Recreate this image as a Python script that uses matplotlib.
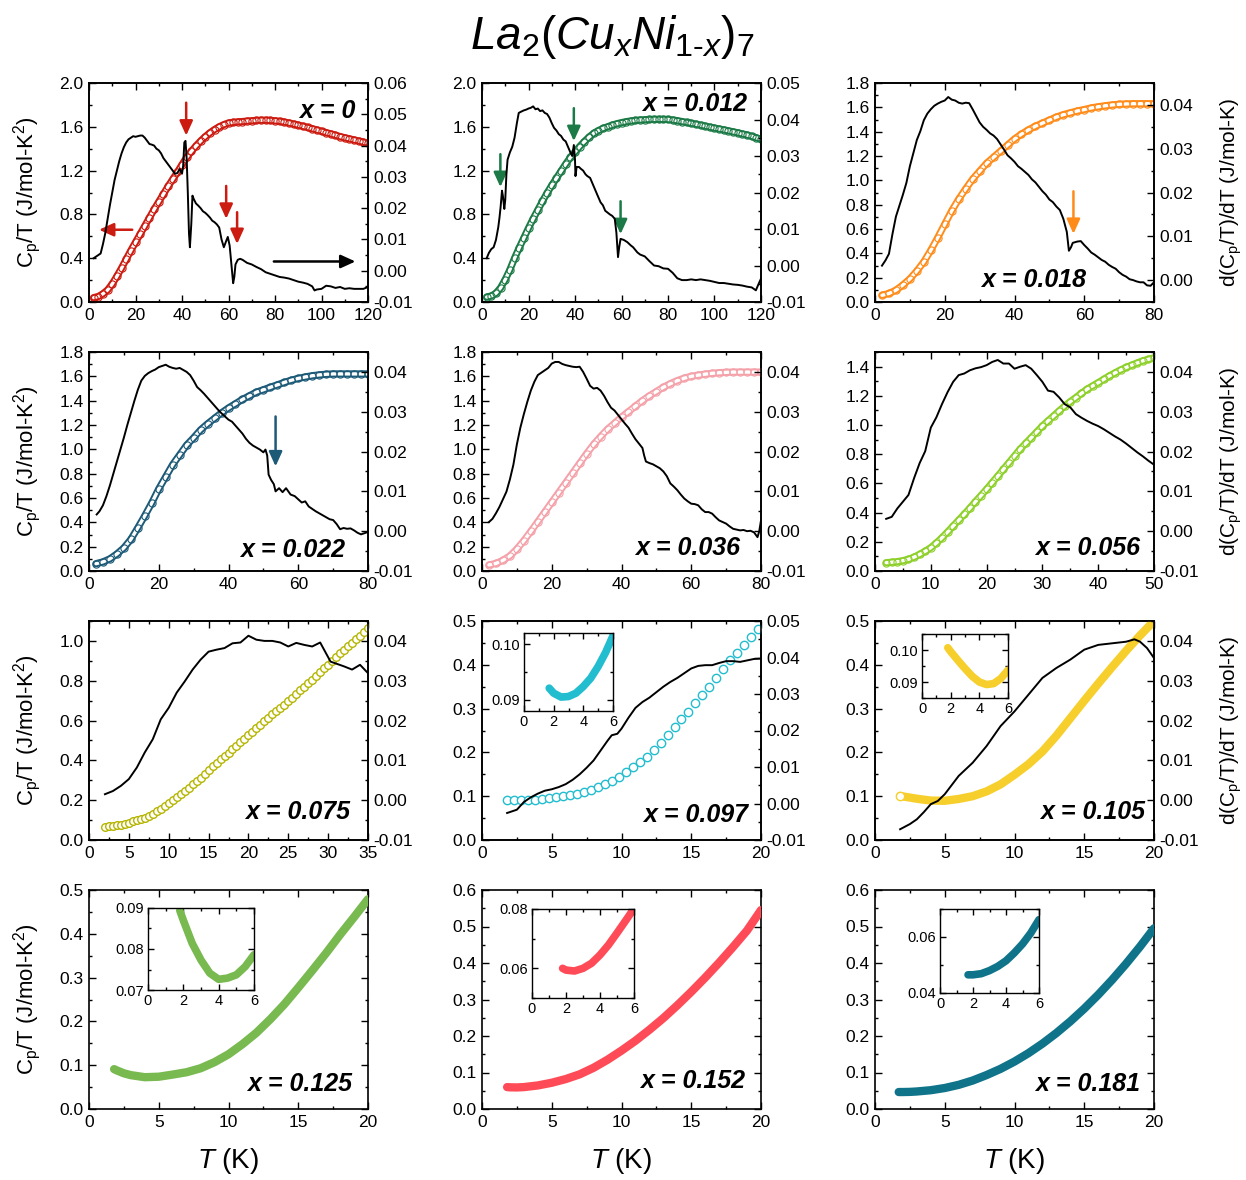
import numpy as np
import matplotlib
matplotlib.use('Agg')
import matplotlib.pyplot as plt
from matplotlib.ticker import MultipleLocator, FormatStrFormatter

plt.rcParams['font.family'] = ['Liberation Sans', 'DejaVu Sans']
plt.rcParams['mathtext.fontset'] = 'custom'
plt.rcParams['mathtext.rm'] = 'Liberation Sans'
plt.rcParams['mathtext.it'] = 'Liberation Sans:italic'
plt.rcParams['mathtext.bf'] = 'Liberation Sans:bold'

# ---------------- data (T [K], value) ----------------
# x = 0
cp_a = [(2,0.04),(4,0.05),(6,0.075),(8,0.11),(10,0.165),(12,0.235),(14,0.31),(16,0.39),(18,0.47),(20,0.545),
        (22,0.62),(24,0.695),(26,0.77),(28,0.845),(30,0.915),(32,0.985),(34,1.055),(36,1.12),(38,1.185),(40,1.255),
        (42,1.32),(44,1.375),(46,1.425),(48,1.47),(50,1.51),(52,1.545),(54,1.575),(56,1.6),(58,1.62),(60,1.635),
        (62,1.64),(64,1.645),(66,1.648),(68,1.652),(70,1.655),(72,1.658),(74,1.66),(76,1.66),(78,1.658),(80,1.655),
        (82,1.65),(84,1.643),(86,1.635),(88,1.625),(90,1.615),(92,1.605),(94,1.594),(96,1.583),(98,1.571),(100,1.559),
        (102,1.547),(104,1.535),(106,1.523),(108,1.511),(110,1.5),(112,1.49),(114,1.48),(116,1.47),(118,1.46),(120,1.45)]
d_a = [(2,0.004),(3,0.0045),(4,0.005),(5,0.0055),(6,0.0085),(7,0.012),(8,0.0165),(9,0.021),(10,0.025),(11,0.029),
       (12,0.032),(13,0.035),(14,0.0375),(15,0.0395),(16,0.041),(17,0.042),(18,0.0425),(19,0.043),(20,0.0428),(21,0.043),
       (22,0.0432),(23,0.0432),(24,0.0425),(25,0.0415),(26,0.0405),(27,0.0403),(28,0.04),(29,0.039),(30,0.0385),(31,0.0375),
       (32,0.036),(33,0.035),(34,0.034),(35,0.033),(36,0.032),(37,0.031),(38,0.0312),(39,0.0325),(40,0.031),(40.5,0.0335),
       (41,0.041),(41.5,0.0415),(42,0.036),(42.5,0.025),(43,0.012),(43.4,0.0075),(44,0.015),(44.5,0.024),(45,0.023),(46,0.0215),
       (47,0.0208),(48,0.02),(49,0.019),(50,0.0185),(51,0.0178),(52,0.017),(53,0.016),(54,0.0155),(55,0.0148),(56,0.0138),
       (57,0.01),(58,0.0075),(59,0.0095),(59.7,0.0108),(60.5,0.008),(61,0.004),(61.5,0.0),(62,-0.004),(62.5,-0.002),(63,0.002),
       (64,0.0035),(65,0.0038),(66,0.0035),(67,0.003),(68,0.0025),(70,0.002),(72,0.0012),(74,0.0005),(76,-0.0005),(78,-0.001),
       (80,-0.0015),(82,-0.002),(84,-0.0022),(86,-0.0025),(88,-0.003),(90,-0.0035),(92,-0.0038),(94,-0.0042),(96,-0.005),(97,-0.0063),
       (98,-0.006),(100,-0.0058),(102,-0.0048),(104,-0.005),(106,-0.0055),(108,-0.0052),(110,-0.0058),(112,-0.0056),(114,-0.0058),
       (116,-0.0058),(118,-0.0058),(120,-0.0052)]
arr_a = [(41.8,1.82,41.8,1.52,'c'),(59,1.06,59,0.76,'c'),(63.7,0.82,63.7,0.53,'c'),(18.6,0.66,4.3,0.66,'c'),(79.5,0.37,114.6,0.37,'k')]

# x = 0.012
cp_b = [(2,0.045),(4,0.055),(6,0.08),(8,0.13),(10,0.205),(12,0.295),(14,0.4),(16,0.495),(18,0.585),(20,0.675),
        (22,0.76),(24,0.84),(26,0.92),(28,0.995),(30,1.065),(32,1.13),(34,1.195),(36,1.26),(38,1.32),(40,1.37),
        (42,1.42),(44,1.465),(46,1.505),(48,1.54),(50,1.565),(52,1.585),(54,1.6),(56,1.615),(58,1.628),(60,1.638),
        (62,1.647),(64,1.653),(66,1.658),(68,1.662),(70,1.665),(72,1.667),(74,1.668),(76,1.668),(78,1.668),(80,1.667),
        (82,1.662),(84,1.656),(86,1.648),(88,1.64),(90,1.632),(92,1.624),(94,1.615),(96,1.606),(98,1.597),(100,1.588),
        (102,1.58),(104,1.572),(106,1.563),(108,1.554),(110,1.545),(112,1.535),(114,1.525),(116,1.513),(118,1.5),(120,1.485)]
d_b = [(2,0.002),(3,0.0035),(4,0.0045),(5,0.005),(6,0.007),(7,0.0105),(7.5,0.013),(8,0.016),(8.6,0.0205),(9,0.019),
       (9.6,0.0155),(10,0.018),(10.5,0.025),(11,0.029),(12,0.031),(13,0.0325),(14,0.035),(15,0.039),(15.8,0.0418),(17,0.0422),
       (18,0.0425),(19,0.0427),(20,0.043),(21,0.0432),(22,0.0436),(23,0.0428),(24,0.043),(25,0.0423),(26,0.0425),(27,0.0418),
       (28,0.0415),(29,0.0405),(30,0.039),(31,0.0377),(32,0.037),(33,0.036),(34,0.0355),(35,0.0345),(36,0.034),(37,0.0325),
       (38,0.031),(38.8,0.03),(39.5,0.033),(40,0.029),(40.2,0.0245),(40.7,0.027),(41.7,0.027),(42.5,0.0265),(43.5,0.026),(44.5,0.025),
       (45.3,0.0245),(46.5,0.024),(47.5,0.0225),(48.5,0.021),(49.5,0.0195),(51,0.0173),(52,0.0165),(53,0.015),(54,0.0145),(55,0.014),
       (56,0.0136),(57.1,0.0128),(57.8,0.009),(58.5,0.0023),(59,0.005),(59.6,0.0073),(61,0.007),(62.5,0.0064),(64,0.0055),(65,0.005),
       (66.8,0.0036),(68,0.003),(70,0.0025),(72,0.0012),(74,0.0),(76,-0.0002),(78,-0.0008),(80,-0.0009),(82,-0.002),(84,-0.0035),
       (86,-0.004),(88,-0.004),(90,-0.0038),(92,-0.004),(94,-0.0038),(96,-0.004),(98,-0.0042),(100,-0.0045),(102,-0.0048),(104,-0.0048),
       (106,-0.005),(108,-0.0052),(110,-0.0053),(112,-0.0055),(114,-0.0058),(116,-0.006),(117.8,-0.0068),(119,-0.005),(120,-0.0036)]
arr_b = [(7.9,1.35,7.9,1.05,'c'),(39.5,1.77,39.5,1.47,'c'),(59.6,0.92,59.6,0.62,'c')]

# x = 0.018
cp_c = [(2,0.055),(4,0.07),(6,0.097),(8,0.14),(10,0.19),(12,0.255),(14,0.33),(16,0.425),(18,0.53),(20,0.64),
        (22,0.75),(24,0.845),(26,0.93),(28,1.01),(30,1.075),(32,1.14),(34,1.19),(36,1.24),(38,1.29),(40,1.34),
        (42,1.38),(44,1.415),(46,1.445),(48,1.47),(50,1.495),(52,1.52),(54,1.54),(56,1.555),(58,1.57),(60,1.582),
        (62,1.595),(64,1.605),(66,1.613),(68,1.62),(70,1.625),(72,1.628),(74,1.63),(76,1.63),(78,1.63),(80,1.63)]
d_c = [(2,0.0033),(3,0.0045),(4,0.006),(5,0.0105),(6,0.0145),(7,0.017),(8,0.0195),(9,0.0222),(10,0.026),(11,0.029),
       (12,0.032),(13,0.034),(14,0.0365),(15,0.038),(16,0.039),(17,0.0398),(18,0.0403),(19,0.0407),(20,0.041),(21,0.0418),
       (22,0.0412),(23,0.041),(24,0.0405),(25,0.0403),(26,0.0405),(27,0.0404),(28,0.039),(29,0.0375),(30,0.036),(31,0.035),
       (32,0.0343),(33,0.0335),(34,0.033),(35,0.0322),(36,0.031),(37,0.0298),(38,0.0285),(39,0.0278),(40,0.027),(41,0.026),
       (42,0.0254),(43,0.0247),(44,0.024),(45,0.023),(46,0.0223),(47,0.0213),(48,0.0203),(49,0.0195),(50,0.0184),(51,0.0178),
       (52,0.0168),(53,0.016),(54,0.014),(55,0.011),(55.6,0.0067),(56.2,0.0075),(56.7,0.0085),(58,0.0088),(59,0.0089),(60,0.008),
       (61,0.0072),(62,0.0063),(63,0.0058),(64,0.0052),(65,0.0046),(66,0.0042),(67,0.0035),(68,0.003),(69,0.0026),(70,0.0018),
       (71,0.0012),(72,0.0008),(73,0.0002),(74,0.0),(75,-0.0003),(76,-0.0005),(77,-0.0005),(78,-0.0012),(79,-0.0013),(80,-0.0005)]
arr_c = [(56.9,0.91,56.9,0.56,'c')]

# x = 0.022
cp_d = [(2,0.06),(4,0.075),(6,0.1),(8,0.14),(10,0.19),(12,0.26),(14,0.355),(16,0.455),(18,0.56),(20,0.675),
        (22,0.775),(24,0.875),(26,0.955),(28,1.035),(30,1.095),(32,1.16),(34,1.21),(36,1.255),(38,1.3),(40,1.34),
        (42,1.375),(44,1.41),(46,1.44),(48,1.47),(50,1.49),(52,1.51),(54,1.53),(56,1.55),(58,1.568),(60,1.583),
        (62,1.595),(64,1.605),(66,1.612),(68,1.617),(70,1.62),(72,1.62),(74,1.62),(76,1.62),(78,1.62),(80,1.62)]
d_d = [(2.2,0.0042),(3,0.005),(4,0.0065),(5,0.0088),(6,0.0115),(7,0.0145),(8,0.0175),(9,0.0205),(10,0.0235),(11,0.0267),
       (12,0.0297),(13,0.0327),(14,0.0355),(15,0.0378),(16,0.039),(17,0.0397),(18,0.0402),(19,0.0406),(20,0.0412),(21,0.0415),
       (22,0.0418),(23,0.0413),(24,0.041),(25,0.0408),(26,0.041),(27,0.0405),(28,0.04),(29,0.0392),(30,0.0378),(31,0.0362),
       (32,0.0354),(33,0.0345),(34,0.0335),(35,0.0325),(36,0.0315),(37,0.0305),(38,0.0296),(39,0.0288),(40,0.028),(41,0.0275),
       (42,0.0265),(43,0.0255),(44,0.0245),(45,0.0232),(46,0.0222),(47,0.0215),(48,0.021),(49,0.0205),(50,0.0198),(50.6,0.0205),
       (51.1,0.019),(51.5,0.0142),(52.2,0.0129),(53,0.0118),(53.5,0.01),(54.5,0.0108),(55.5,0.0098),(56.5,0.0108),(57.8,0.0092),(59,0.0088),
       (60,0.008),(61,0.0072),(62,0.0075),(63,0.0062),(64,0.0056),(65,0.005),(66,0.0045),(67,0.004),(68,0.0035),(69,0.003),
       (70,0.0028),(71,0.0018),(72,0.0005),(73,0.0008),(74,0.0006),(75,0.0007),(76,0.0002),(77,-0.0004),(78,-0.0008),(79,-0.0005),(80,-0.0002)]
arr_d = [(53.5,1.27,53.5,0.86,'c')]

# x = 0.036
cp_e = [(2,0.05),(4,0.062),(6,0.088),(8,0.124),(10,0.18),(12,0.25),(14,0.325),(16,0.405),(18,0.485),(20,0.565),
        (22,0.645),(24,0.725),(26,0.805),(28,0.885),(30,0.965),(32,1.04),(34,1.105),(36,1.165),(38,1.215),(40,1.265),
        (42,1.31),(44,1.355),(46,1.4),(48,1.44),(50,1.475),(52,1.51),(54,1.54),(56,1.565),(58,1.585),(60,1.6),
        (62,1.61),(64,1.618),(66,1.625),(68,1.63),(70,1.633),(72,1.635),(74,1.635),(76,1.635),(78,1.635),(80,1.635)]
d_e = [(2,0.0023),(3,0.0031),(4,0.0045),(5,0.0061),(6,0.008),(7,0.0099),(8,0.013),(9,0.0167),(10,0.0218),(11,0.026),
       (12,0.0294),(13,0.0325),(14,0.0353),(15,0.0375),(16,0.0392),(17,0.0398),(18,0.0404),(19,0.041),(20,0.0421),(21,0.0425),
       (22,0.0425),(23,0.042),(24,0.0417),(25,0.0415),(26,0.0413),(27,0.0412),(28,0.0413),(29,0.04),(30,0.0383),(31,0.0365),
       (32,0.0358),(33,0.036),(34,0.0353),(35,0.034),(36,0.0324),(37,0.031),(38,0.0303),(39,0.0292),(40,0.0281),(41,0.027),
       (42,0.026),(43,0.0245),(44,0.0231),(45,0.022),(46,0.0209),(46.5,0.019),(47,0.0175),(48,0.0171),(49,0.0168),(50,0.0163),
       (51,0.0158),(52,0.015),(53,0.0138),(54,0.012),(55,0.0112),(56,0.0103),(57,0.0092),(58,0.0082),(59,0.0075),(60,0.0069),
       (61,0.0068),(62,0.0065),(63,0.0055),(64,0.0048),(65,0.0048),(66,0.0044),(67,0.0035),(68,0.0027),(69,0.0023),(70,0.0019),
       (71,0.0012),(72,0.0006),(73,0.0004),(74,0.0002),(75,0.0003),(76,0.0),(77,0.0001),(78,-0.0003),(79,-0.0015),(79.5,0.0),(80,0.0027)]

# x = 0.056
cp_f = [(2,0.057),(3,0.06),(4,0.064),(5,0.071),(6,0.08),(7,0.095),(8,0.114),(9,0.135),(10,0.16),(11,0.192),
        (12,0.228),(13,0.267),(14,0.308),(15,0.348),(16,0.388),(17,0.431),(18,0.475),(19,0.517),(20,0.56),(21,0.605),
        (22,0.65),(23,0.696),(24,0.742),(25,0.788),(26,0.834),(27,0.874),(28,0.913),(29,0.953),(30,0.993),(31,1.028),
        (32,1.062),(33,1.096),(34,1.13),(35,1.16),(36,1.188),(37,1.217),(38,1.245),(39,1.268),(40,1.29),(41,1.313),
        (42,1.336),(43,1.357),(44,1.377),(45,1.394),(46,1.41),(47,1.425),(48,1.44),(49,1.45),(50,1.46)]
d_f = [(2,0.0031),(3,0.0036),(4,0.0057),(5,0.0074),(6,0.0091),(7,0.0133),(8,0.0171),(9,0.0201),(10,0.026),(11,0.0286),
       (12,0.0319),(13,0.0349),(14,0.0375),(15,0.0392),(16,0.0396),(17,0.0404),(18,0.0409),(19,0.0412),(20,0.0417),(21,0.0425),
       (22,0.043),(23,0.0421),(24,0.0421),(25,0.0408),(26,0.0413),(27,0.0417),(28,0.0408),(29,0.0392),(30,0.0375),(31,0.0353),
       (32,0.035),(33,0.0336),(34,0.0319),(35,0.0311),(36,0.0294),(37,0.0285),(38,0.0277),(39,0.027),(40,0.0264),(41,0.0256),
       (42,0.0247),(43,0.0238),(44,0.023),(45,0.022),(46,0.0209),(47,0.0198),(48,0.0188),(49,0.0177),(50,0.0167)]

# x = 0.075
cp_g = [(2,0.067),(2.5,0.069),(3,0.071),(3.5,0.074),(4,0.077),(4.5,0.082),(5,0.087),(5.5,0.093),(6,0.099),(6.5,0.106),
        (7,0.113),(7.5,0.122),(8,0.132),(8.5,0.145),(9,0.157),(9.5,0.172),(10,0.188),(10.5,0.202),(11,0.217),(11.5,0.232),
        (12,0.247),(12.5,0.263),(13,0.28),(13.5,0.297),(14,0.313),(14.5,0.332),(15,0.351),(15.5,0.37),(16,0.389),(16.5,0.405),
        (17,0.422),(17.5,0.438),(18,0.455),(18.5,0.472),(19,0.49),(19.5,0.507),(20,0.525),(20.5,0.543),(21,0.561),(21.5,0.579),
        (22,0.597),(22.5,0.614),(23,0.631),(23.5,0.647),(24,0.664),(24.5,0.68),(25,0.697),(25.5,0.715),(26,0.733),(26.5,0.751),
        (27,0.769),(27.5,0.787),(28,0.805),(28.5,0.824),(29,0.843),(29.5,0.862),(30,0.88),(30.5,0.899),(31,0.918),(31.5,0.937),
        (32,0.955),(32.5,0.973),(33,0.991),(33.5,1.009),(34,1.027),(34.5,1.045),(35,1.063)]
d_g = [(2,0.0015),(3,0.0023),(4,0.0036),(5,0.0053),(6,0.0082),(7,0.012),(8,0.0153),(9,0.0203),(10,0.0232),(11,0.027),
       (12,0.0298),(13,0.0328),(14,0.0353),(15,0.0373),(16,0.0378),(17,0.0382),(18,0.0394),(19,0.0396),(20,0.0413),(21,0.0403),
       (22,0.04),(23,0.04),(24,0.0396),(25,0.0386),(26,0.0395),(27,0.039),(28,0.0386),(29,0.0396),(30.3,0.0348),(32,0.0336),
       (33,0.0328),(34,0.034),(35,0.0319)]

# x = 0.097
cp_h = [(1.8,0.092),(2.3,0.0908),(2.8,0.0905),(3.3,0.0908),(3.8,0.0918),(4.3,0.0932),(4.8,0.0955),(5.3,0.0975),(5.8,0.1),(6.3,0.103),
        (6.8,0.106),(7.3,0.11),(7.8,0.1145),(8.3,0.121),(8.8,0.1275),(9.3,0.135),(9.8,0.143),(10.3,0.1555),(10.8,0.166),(11.3,0.177),
        (11.8,0.1895),(12.3,0.2055),(12.8,0.222),(13.3,0.2395),(13.8,0.258),(14.3,0.276),(14.8,0.293),(15.3,0.312),(15.8,0.331),(16.3,0.35),
        (16.8,0.37),(17.3,0.39),(17.8,0.41),(18.3,0.428),(18.8,0.446),(19.3,0.463),(19.8,0.482)]
d_h = [(1.8,-0.0026),(2.5,-0.0017),(3,0.0004),(3.5,0.0017),(4,0.0027),(4.5,0.0035),(5,0.0039),(5.5,0.0045),(6,0.0053),(6.5,0.0065),
       (7,0.008),(7.5,0.0098),(8,0.0118),(8.5,0.0145),(9,0.0172),(9.3,0.0187),(9.7,0.0191),(10,0.0205),(10.5,0.0235),(11,0.0262),
       (11.5,0.0278),(12,0.029),(12.5,0.0305),(13,0.032),(13.5,0.0333),(14,0.0344),(14.5,0.0357),(15,0.037),(15.5,0.0377),(16,0.0379),
       (16.5,0.0379),(17,0.0385),(17.5,0.039),(18,0.039),(18.5,0.0388),(19,0.0392),(19.5,0.0396),(20,0.0397)]
ins_h = [(1.7,0.0921),(2,0.0912),(2.5,0.0905),(3,0.0906),(3.5,0.0912),(4,0.0924),(4.5,0.0939),(5,0.096),(5.5,0.0985),(6,0.1015)]

# x = 0.105
cp_i = [(1.8,0.1007),(2,0.0995),(3,0.0942),(4,0.09),(5,0.0895),(6,0.0937),(7,0.1),(8,0.111),(9,0.127),(10,0.149),
        (11,0.173),(12,0.202),(13,0.238),(14,0.278),(15,0.318),(16,0.357),(17,0.395),(18,0.432),(19,0.467),(20,0.5)]
d_i = [(1.8,-0.0073),(2.5,-0.006),(3,-0.0048),(3.5,-0.003),(4,-0.001),(4.5,-0.0002),(5,0.0015),(6,0.0061),(7,0.0094),(8,0.0136),
       (9,0.0186),(10,0.0223),(11,0.0265),(12,0.0307),(13,0.0332),(14,0.0353),(15,0.0378),(16,0.039),(17,0.0394),(18,0.0398),
       (18.6,0.0404),(19,0.0398),(19.5,0.0382),(20,0.0357)]
ins_i = [(1.8,0.1007),(2,0.0995),(2.5,0.0968),(3,0.0942),(3.5,0.0918),(4,0.09),(4.5,0.0892),(5,0.0895),(5.5,0.0911),(6,0.0937)]

# x = 0.125
cp_j = [(1.8,0.091),(2,0.088),(2.5,0.0815),(3,0.0773),(4,0.0726),(5,0.0737),(6,0.0786),(7,0.084),(8,0.093),(9,0.107),
        (10,0.125),(11,0.148),(12,0.174),(13,0.205),(14,0.239),(15,0.277),(16,0.316),(17,0.356),(18,0.398),(19,0.438),(20,0.479)]
ins_j = [(1.8,0.0894),(2,0.087),(2.5,0.0814),(3,0.0773),(3.5,0.0741),(4,0.0726),(4.5,0.0729),(5,0.0737),(5.5,0.0757),(6,0.0786)]

# x = 0.152
cp_k = [(1.8,0.06),(2,0.0594),(2.5,0.0591),(3,0.06),(4,0.0645),(5,0.0719),(6,0.082),(7,0.095),(8,0.113),(9,0.135),
        (10,0.16),(11,0.187),(12,0.217),(13,0.249),(14,0.284),(15,0.321),(16,0.36),(17,0.401),(18,0.444),(19,0.489),(20,0.545)]
ins_k = [(1.8,0.06),(2,0.0594),(2.5,0.0591),(3,0.06),(3.5,0.0617),(4,0.0645),(4.5,0.0679),(5,0.0719),(5.5,0.076),(5.8,0.0785),(6,0.0803)]

# x = 0.181
cp_l = [(1.7,0.0465),(2,0.0465),(2.5,0.0469),(3,0.048),(4,0.0515),(5,0.0575),(6,0.0662),(7,0.078),(8,0.093),(9,0.11),
        (10,0.13),(11,0.153),(12,0.179),(13,0.208),(14,0.24),(15,0.275),(16,0.313),(17,0.354),(18,0.398),(19,0.445),(20,0.495)]
ins_l = [(1.7,0.0465),(2,0.0465),(2.5,0.0469),(3,0.048),(3.5,0.0495),(4,0.0515),(4.5,0.0543),(5,0.0575),(5.5,0.0614),(6,0.0662)]

labels = ['x = 0', 'x = 0.012', 'x = 0.018', 'x = 0.022', 'x = 0.036', 'x = 0.056',
          'x = 0.075', 'x = 0.097', 'x = 0.105', 'x = 0.125', 'x = 0.152', 'x = 0.181']
colors = ['#cc1b10', '#1b7a46', '#ff8c1a', '#1d5a78', '#f4a1a9', '#8ed02a',
          '#b5b500', '#22bdce', '#f6cf2c', '#78b950', '#ff4b58', '#0f7389']

# ---------------- layout ----------------
W, H = 1246, 1180
fig = plt.figure(figsize=(W / 100, H / 100), dpi=100)
COL_L = [89, 482, 875]
ROW_T = [83, 352, 621, 890]
AW, AH = 279, 219


def px_axes(l, t, w, h):
    return fig.add_axes([l / W, 1 - (t + h) / H, w / W, h / H])


def base_ticks(ax, size=12.5, major=5, minor=2.5):
    ax.tick_params(which='both', direction='in', width=1.0, labelsize=size, pad=4, colors='black')
    ax.tick_params(which='major', length=major)
    ax.tick_params(which='minor', length=minor)
    for s in ax.spines.values():
        s.set_linewidth(1.2)


def xy(data):
    a = np.array(data, dtype=float)
    return a[:, 0], a[:, 1]


panels = [
    dict(cp=cp_a, d=d_a, style='tube', xlim=(0, 120), xmaj=20, ylim=(0, 2.0), ymaj=0.4, rylim=(-0.01, 0.06), lab=(0.955, 0.872), arrows=arr_a),
    dict(cp=cp_b, d=d_b, style='tube', xlim=(0, 120), xmaj=20, ylim=(0, 2.0), ymaj=0.4, rylim=(-0.01, 0.05), lab=(0.95, 0.905), arrows=arr_b),
    dict(cp=cp_c, d=d_c, style='tube', xlim=(0, 80), xmaj=20, ylim=(0, 1.8), ymaj=0.2, rylim=(-0.005, 0.045), lab=(0.755, 0.10), arrows=arr_c),
    dict(cp=cp_d, d=d_d, style='tube', xlim=(0, 80), xmaj=20, ylim=(0, 1.8), ymaj=0.2, rylim=(-0.01, 0.045), lab=(0.918, 0.096), arrows=arr_d),
    dict(cp=cp_e, d=d_e, style='tube', xlim=(0, 80), xmaj=20, ylim=(0, 1.8), ymaj=0.2, rylim=(-0.01, 0.045), lab=(0.925, 0.105)),
    dict(cp=cp_f, d=d_f, style='tube', xlim=(0, 50), xmaj=10, ylim=(0, 1.5), ymaj=0.2, rylim=(-0.01, 0.045), lab=(0.95, 0.105)),
    dict(cp=cp_g, d=d_g, style='o', ms=5.5, xlim=(0, 35), xmaj=5, ylim=(0, 1.1), ymaj=0.2, rylim=(-0.01, 0.045), lab=(0.935, 0.128)),
    dict(cp=cp_h, d=d_h, style='o', ms=6, xlim=(0, 20), xmaj=5, ylim=(0, 0.5), ymaj=0.1, rylim=(-0.01, 0.05), lab=(0.953, 0.114),
         inset=dict(box=(524, 633, 89, 78), data=ins_h, ylim=(0.088, 0.102), ymaj=0.01)),
    dict(cp=cp_i, d=d_i, style='band', xlim=(0, 20), xmaj=5, ylim=(0, 0.5), ymaj=0.1, rylim=(-0.01, 0.045), lab=(0.968, 0.128), opencirc=True,
         inset=dict(box=(922, 634, 86, 64), data=ins_i, ylim=(0.085, 0.105), ymaj=0.01)),
    dict(cp=cp_j, d=None, style='band', xlim=(0, 20), xmaj=5, ylim=(0, 0.5), ymaj=0.1, lab=(0.943, 0.114),
         inset=dict(box=(148, 908, 106, 82), data=ins_j, ylim=(0.07, 0.09), ymaj=0.01)),
    dict(cp=cp_k, d=None, style='band', xlim=(0, 20), xmaj=5, ylim=(0, 0.6), ymaj=0.1, lab=(0.943, 0.128),
         inset=dict(box=(532, 909, 102, 89), data=ins_k, ylim=(0.05, 0.08), ymaj=0.02)),
    dict(cp=cp_l, d=None, style='band', xlim=(0, 20), xmaj=5, ylim=(0, 0.6), ymaj=0.1, lab=(0.95, 0.114),
         inset=dict(box=(940, 909, 99, 84), data=ins_l, ylim=(0.04, 0.07), ymaj=0.02)),
]

for idx, p in enumerate(panels):
    r, c = divmod(idx, 3)
    color = colors[idx]
    ax = px_axes(COL_L[c], ROW_T[r], AW, AH)
    ax.set_xlim(*p['xlim'])
    ax.set_ylim(*p['ylim'])
    ax.xaxis.set_major_locator(MultipleLocator(p['xmaj']))
    ax.xaxis.set_minor_locator(MultipleLocator(p['xmaj'] / 2))
    ax.yaxis.set_major_locator(MultipleLocator(p['ymaj']))
    ax.yaxis.set_minor_locator(MultipleLocator(p['ymaj'] / 2))
    ax.yaxis.set_major_formatter(FormatStrFormatter('%.1f'))
    ax.xaxis.set_major_formatter(FormatStrFormatter('%d'))
    base_ticks(ax)
    ax.tick_params(which='both', top=True, right=(p['d'] is None), labelright=False)

    T, v = xy(p['cp'])
    if p['style'] == 'o':
        ax.plot(T, v, ls='none', marker='o', ms=p['ms'], mfc='white', mec=color, mew=1.0, zorder=3)
    elif p['style'] == 'tube':
        # dense chain of open circles: coloured outline with a white core
        ax.plot(T, v, '-', color=color, lw=5.2, solid_capstyle='round', zorder=3)
        ax.plot(T, v, '-', color='white', lw=2.4, solid_capstyle='round', zorder=3)
        ax.plot(T, v, ls='none', marker='o', ms=5.2, mfc='none', mec=color, mew=0.8, zorder=3)
    else:
        ax.plot(T, v, '-', color=color, lw=6, solid_capstyle='round', zorder=3)
        if p.get('opencirc'):
            ax.plot(T[:1], v[:1], ls='none', marker='o', ms=6, mfc='white', mec=color, mew=1.0, zorder=4)

    ax.text(p['lab'][0], p['lab'][1], labels[idx], transform=ax.transAxes, ha='right', va='center',
            fontsize=18, fontweight='bold', fontstyle='italic', zorder=6)

    if c == 0:
        ax.set_ylabel(r'C$_\mathrm{p}$/T (J/mol-K$^\mathrm{2}$)', fontsize=16)
        ax.yaxis.set_label_coords(-0.165, 0.5)
    if r == 3:
        ax.set_xlabel(r'$\mathit{T}$ (K)', fontsize=20)
        ax.xaxis.set_label_coords(0.5, -0.17)

    for (x0, y0, x1, y1, cc) in p.get('arrows', []):
        ac = color if cc == 'c' else 'black'
        ax.annotate('', xy=(x1, y1), xytext=(x0, y0),
                    arrowprops=dict(arrowstyle='-|>,head_length=0.55,head_width=0.25', color=ac, lw=1.8,
                                    shrinkA=0, shrinkB=0, mutation_scale=16), zorder=7)

    if p['d'] is not None:
        ax2 = ax.twinx()
        Td, dv = xy(p['d'])
        ax2.plot(Td, dv, '-', color='black', lw=1.4, zorder=4)
        ax2.set_ylim(*p['rylim'])
        ax2.yaxis.set_major_locator(MultipleLocator(0.01))
        ax2.yaxis.set_minor_locator(MultipleLocator(0.005))
        ax2.yaxis.set_major_formatter(FormatStrFormatter('%.2f'))
        base_ticks(ax2)
        if c == 2:
            ax2.set_ylabel(r'd(C$_\mathrm{p}$/T)/dT (J/mol-K)', fontsize=15)
            ax2.yaxis.set_label_coords(1.232, 0.5)

    if 'inset' in p:
        ins = p['inset']
        l, t, w, h = ins['box']
        axi = px_axes(l, t, w, h)
        Ti, vi = xy(ins['data'])
        axi.plot(Ti, vi, '-', color=color, lw=5.5, solid_capstyle='round')
        axi.set_xlim(0, 6)
        axi.set_ylim(*ins['ylim'])
        axi.xaxis.set_major_locator(MultipleLocator(2))
        axi.xaxis.set_minor_locator(MultipleLocator(1))
        axi.yaxis.set_major_locator(MultipleLocator(ins['ymaj']))
        axi.yaxis.set_minor_locator(MultipleLocator(ins['ymaj'] / 2))
        axi.yaxis.set_major_formatter(FormatStrFormatter('%.2f'))
        axi.xaxis.set_major_formatter(FormatStrFormatter('%d'))
        base_ticks(axi, size=10.5, major=4, minor=2)
        axi.tick_params(which='both', top=True, right=True, pad=3)
        for s in axi.spines.values():
            s.set_linewidth(1.0)

fig.text(612 / W, 1 - 37 / H, r'$\mathit{La_2(Cu_xNi_{1\text{-}x})_7}$', ha='center', va='center', fontsize=33)

fig.savefig('out.png', dpi=100)
